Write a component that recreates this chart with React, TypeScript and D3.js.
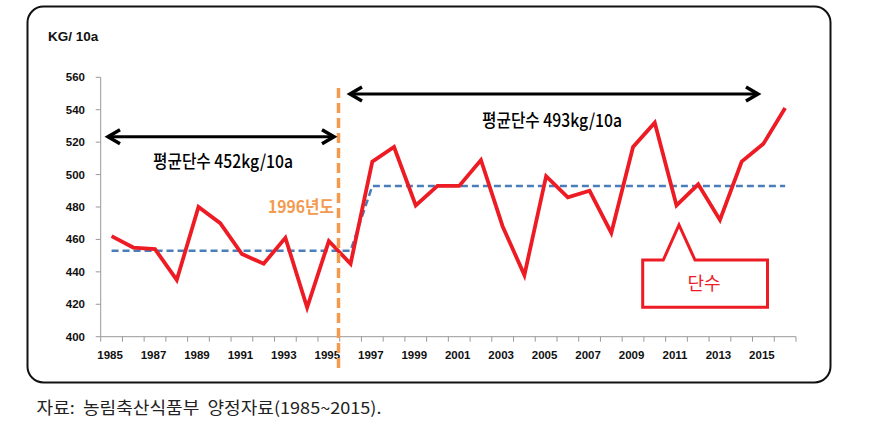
import React from "react";
import * as d3 from "d3";

const years: number[] = [
  1985, 1986, 1987, 1988, 1989, 1990, 1991, 1992, 1993, 1994, 1995, 1996,
  1997, 1998, 1999, 2000, 2001, 2002, 2003, 2004, 2005, 2006, 2007, 2008,
  2009, 2010, 2011, 2012, 2013, 2014, 2015, 2016,
];
const yieldValues: number[] = [
  462, 455, 454, 435, 480, 470, 451, 445, 461, 418, 459, 445,
  508, 517, 481, 493, 493, 509, 468, 438, 499, 486, 490, 464,
  517, 532, 481, 494, 472, 508, 519, 541,
];
const averageValues: number[] = [
  453, 453, 453, 453, 453, 453, 453, 453, 453, 453, 453, 453,
  493, 493, 493, 493, 493, 493, 493, 493, 493, 493, 493, 493,
  493, 493, 493, 493, 493, 493, 493, 493,
];
const yTicks: number[] = [400, 420, 440, 460, 480, 500, 520, 540, 560];
const xTickLabels: number[] = [
  1985, 1987, 1989, 1991, 1993, 1995, 1997, 1999, 2001, 2003, 2005, 2007,
  2009, 2011, 2013, 2015,
];
const periodLabels: string[] = ["평균단수 452kg/10a", "평균단수 493kg/10a"];
const yUnit = "KG/ 10a";
const markerLabel = "1996년도";
const calloutLabel = "단수";
const sourceText = "자료:  농림축산식품부  양정자료(1985~2015).";

export default function App() {
  const left = 100.7;
  const right = 796;
  const top = 77.3;
  const bottom = 336.7;

  const x = d3
    .scaleBand<number>()
    .domain(years)
    .range([left, right])
    .paddingInner(0)
    .paddingOuter(0);
  const y = d3.scaleLinear().domain([400, 560]).range([bottom, top]);
  const cx = (yr: number) => (x(yr) as number) + x.bandwidth() / 2;

  const line = d3
    .line<number>()
    .x((_, i) => cx(years[i]))
    .y((d) => y(d));

  const red = "#ED1C24";
  const blue = "#4A7EBB";
  const orange = "#F39A4F";
  const boundaries = d3.range(years.length + 1).map((i) => left + i * x.bandwidth());
  const markerX = (x(1996) as number) - 1.2;

  const arrowY1 = 136.7;
  const arrowY2 = 94;
  const head = (xx: number, yy: number, dir: number) =>
    `M${xx + dir * 12},${yy - 7} L${xx},${yy} L${xx + dir * 12},${yy + 7}`;

  const headlineFont = "'Noto Sans CJK KR', sans-serif";
  const numFont = "'Liberation Sans', Arial, sans-serif";

  return (
    <svg
      width={871}
      height={444}
      style={{ position: "absolute", left: 0, top: 0, background: "#fff" }}
    >
      <rect x={0} y={0} width={871} height={444} fill="#fff" />
      <rect
        x={27.5}
        y={6.5}
        width={803}
        height={376}
        rx={16}
        ry={16}
        fill="none"
        stroke="#111"
        strokeWidth={2}
      />
      <text
        x={48}
        y={41}
        fontFamily={numFont}
        fontWeight="bold"
        fontSize={13.5}
        fill="#111"
      >
        {yUnit}
      </text>

      {/* y axis */}
      <line x1={left} x2={left} y1={top} y2={bottom} stroke="#999" strokeWidth={1} />
      {yTicks.map((t) => (
        <g key={t}>
          <line x1={left - 5} x2={left} y1={y(t)} y2={y(t)} stroke="#999" />
          <text
            x={85}
            y={y(t)}
            dy="0.35em"
            textAnchor="end"
            fontFamily={numFont}
            fontWeight="bold"
            fontSize={11.5}
            fill="#111"
          >
            {t}
          </text>
        </g>
      ))}

      {/* x axis */}
      <line x1={left} x2={right} y1={bottom} y2={bottom} stroke="#999" />
      {boundaries.map((b, i) => (
        <line key={i} x1={b} x2={b} y1={bottom} y2={bottom + 5} stroke="#999" />
      ))}
      {xTickLabels.map((yr) => (
        <text
          key={yr}
          x={cx(yr) - 1.5}
          y={355}
          dy="0.35em"
          textAnchor="middle"
          fontFamily={numFont}
          fontWeight="bold"
          fontSize={11.5}
          fill="#111"
        >
          {yr}
        </text>
      ))}

      {/* average dashed */}
      <path
        d={line(averageValues) || ""}
        fill="none"
        stroke={blue}
        strokeWidth={2.5}
        strokeDasharray="7 4"
      />
      {/* yield line */}
      <path
        d={line(yieldValues) || ""}
        fill="none"
        stroke={red}
        strokeWidth={3.8}
        strokeLinejoin="miter"
      />

      {/* 1996 marker */}
      <line
        x1={markerX}
        x2={markerX}
        y1={88}
        y2={368}
        stroke={orange}
        strokeWidth={3.5}
        strokeDasharray="10 5"
      />
      <text
        x={334}
        y={207}
        dy="0.35em"
        textAnchor="end"
        fontFamily={headlineFont}
        fontWeight="bold"
        fontSize={16.5}
        fill={orange}
        textLength={66}
        lengthAdjust="spacingAndGlyphs"
      >
        {markerLabel}
      </text>

      {/* period arrows */}
      <line x1={109} x2={333} y1={arrowY1} y2={arrowY1} stroke="#000" strokeWidth={3} />
      <path d={head(108, arrowY1, 1)} fill="none" stroke="#000" strokeWidth={3.5} />
      <path d={head(334, arrowY1, -1)} fill="none" stroke="#000" strokeWidth={3.5} />
      <text
        x={223}
        y={162}
        dy="0.35em"
        textAnchor="middle"
        fontFamily={headlineFont}
        fontWeight={500}
        fontSize={18}
        fill="#000"
        textLength={140}
        lengthAdjust="spacingAndGlyphs"
      >
        {periodLabels[0]}
      </text>

      <line x1={351} x2={757} y1={arrowY2} y2={arrowY2} stroke="#000" strokeWidth={3} />
      <path d={head(350, arrowY2, 1)} fill="none" stroke="#000" strokeWidth={3.5} />
      <path d={head(758, arrowY2, -1)} fill="none" stroke="#000" strokeWidth={3.5} />
      <text
        x={552}
        y={121}
        dy="0.35em"
        textAnchor="middle"
        fontFamily={headlineFont}
        fontWeight={500}
        fontSize={18}
        fill="#000"
        textLength={140}
        lengthAdjust="spacingAndGlyphs"
      >
        {periodLabels[1]}
      </text>

      {/* callout */}
      <path
        d="M663.3,260 L679,225 L695,260 L767.5,260 L767.5,307.3 L642.7,307.3 L642.7,260 Z"
        fill="#fff"
        stroke={red}
        strokeWidth={3}
        strokeLinejoin="miter"
      />
      <text
        x={704}
        y={284}
        dy="0.35em"
        textAnchor="middle"
        fontFamily={headlineFont}
        fontSize={18}
        fill={red}
      >
        {calloutLabel}
      </text>

      {/* source */}
      <text
        x={36.5}
        y={408}
        dy="0.35em"
        fontFamily={headlineFont}
        fontSize={16.5}
        fill="#222"
        style={{ whiteSpace: "pre" }}
        xmlSpace="preserve"
        textLength={345}
        lengthAdjust="spacingAndGlyphs"
      >
        {sourceText}
      </text>
    </svg>
  );
}
